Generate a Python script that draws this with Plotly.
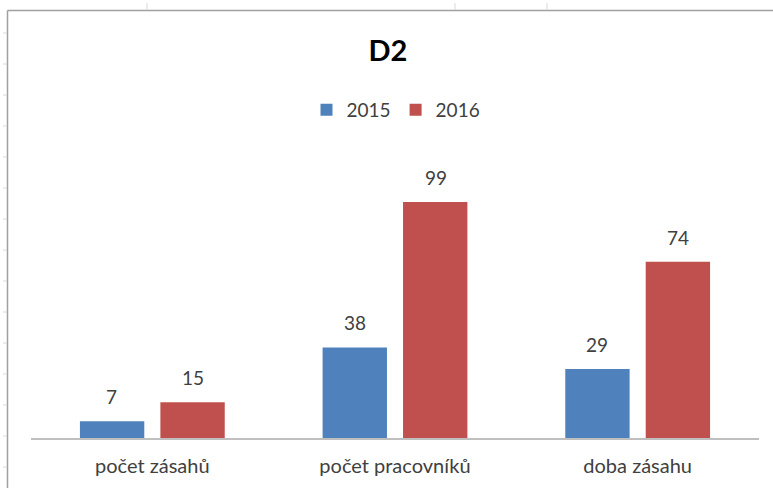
import plotly.graph_objects as go

categories = ["počet zásahů", "počet pracovníků", "doba zásahu"]
years = ["2015", "2016"]
values_2015 = [7, 38, 29]
values_2016 = [15, 99, 74]

W, H = 773, 488
L, R, T, B = 31, 14, 152, 50
pw = W - L - R
ph = H - T - B

def px(x):
    return (x - L) / pw

def py(y):
    return (H - B - y) / ph

FONT = "Lato, 'Liberation Sans', sans-serif"
TXT = "#404040"

fig = go.Figure()
series = [(years[0], values_2015, "#4F81BD", -40.5), (years[1], values_2016, "#C0504D", 40.5)]
for name, vals, col, shift in series:
    fig.add_trace(go.Bar(
        x=categories, y=vals, name=name,
        marker=dict(color=col, line=dict(width=0)),
        cliponaxis=False,
    ))
    for c, v in zip(categories, vals):
        fig.add_annotation(x=c, y=v, text=str(v), showarrow=False, xshift=shift, yshift=11,
                           yanchor="bottom", font=dict(size=19, color=TXT, family=FONT))

fig.update_layout(
    width=W, height=H,
    margin=dict(l=L, r=R, t=T, b=B),
    paper_bgcolor="white", plot_bgcolor="white",
    barmode="group", bargap=0.337, bargroupgap=0.2,
    title=dict(text="<b>D2</b>", x=px(388), xanchor="center", xref="paper",
               y=1 - 51 / H, yanchor="middle",
               font=dict(size=29, color="black", family=FONT)),
    legend=dict(orientation="h", x=px(396), xanchor="center", y=py(110), yanchor="middle",
                font=dict(size=19, color=TXT, family=FONT), itemwidth=30,
                bgcolor="rgba(0,0,0,0)"),
    xaxis=dict(showline=True, linecolor="#BFBFBF", linewidth=1.5, ticks="", showgrid=False,
               tickfont=dict(size=20, color=TXT, family=FONT), ticklabelstandoff=9,
               fixedrange=True),
    yaxis=dict(range=[0, 120], visible=False, showgrid=False, fixedrange=True),
    font=dict(family=FONT),
    showlegend=True,
)

# chart frame (Excel chart border)
fig.add_shape(type="line", xref="paper", yref="paper", x0=px(7.5), x1=px(780), y0=py(10.5), y1=py(10.5),
              line=dict(color="#A0A0A0", width=1.5))
fig.add_shape(type="line", xref="paper", yref="paper", x0=px(7.5), x1=px(7.5), y0=py(10.5), y1=py(495),
              line=dict(color="#A0A0A0", width=1.5))
# faint spreadsheet gridline stubs
for xx in [147, 455, 547]:
    fig.add_shape(type="line", xref="paper", yref="paper", x0=px(xx), x1=px(xx), y0=py(3), y1=py(10),
                  line=dict(color="#D8D8D8", width=1))
for yy in range(33, 488, 31):
    fig.add_shape(type="line", xref="paper", yref="paper", x0=px(3), x1=px(7), y0=py(yy), y1=py(yy),
                  line=dict(color="#D8D8D8", width=1))

fig.write_html("out.html", config={"displayModeBar": False},
               post_script="document.body.style.margin='0';")
